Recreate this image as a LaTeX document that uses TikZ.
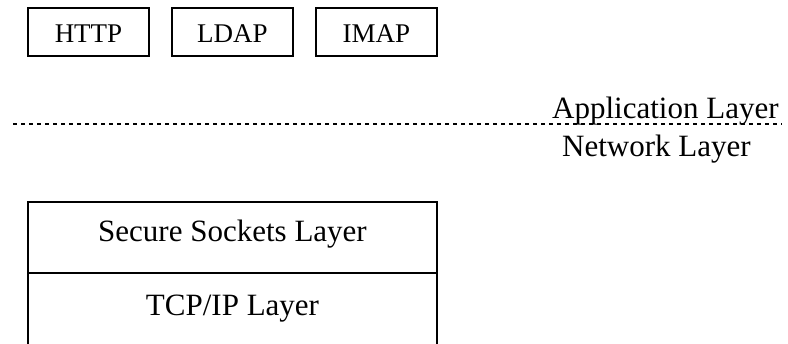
\documentclass[tikz,border=0pt]{standalone}
\usepackage{fontspec}
\setmainfont{Liberation Serif}
\begin{document}
\begin{tikzpicture}[x=1pt,y=-1pt,
  protobox/.style={draw,line width=1.8pt,inner sep=0pt,outer sep=0pt,anchor=south west,
    minimum width=121pt,text height=35pt,text depth=13pt,font=\fontsize{27}{31}\selectfont},
  layerbox/.style={draw,line width=1.8pt,inner sep=0pt,outer sep=0pt,anchor=north west,
    minimum width=409pt,font=\fontsize{31}{36}\selectfont},
  layerlabel/.style={inner sep=0pt,anchor=base west,font=\fontsize{31}{36}\selectfont},
  sepline/.style={dashed,dash pattern=on 4.3pt off 3.7pt,line width=1.6pt}]
\useasboundingbox (0,0) rectangle (788,344);
\clip (0,0) rectangle (788,344);
\node[protobox] (http) at (28,56) {HTTP};
\node[protobox] (ldap) at (172,56) {LDAP};
\node[protobox] (imap) at (316,56) {IMAP};
\coordinate (dl) at (13,124);
\coordinate (dr) at (782,124);
\draw[sepline] (dl) -- (dr);
\node[layerlabel] (app) at (552,119) {Application Layer};
\node[layerlabel] (net) at (562,157) {Network Layer};
\node[layerbox,text height=40pt,text depth=31pt] (ssl) at (28,202) {Secure Sockets Layer};
\node[layerbox,text height=43pt,text depth=50pt] (tcp) at (28,273) {TCP/IP Layer};
\end{tikzpicture}
\end{document}
